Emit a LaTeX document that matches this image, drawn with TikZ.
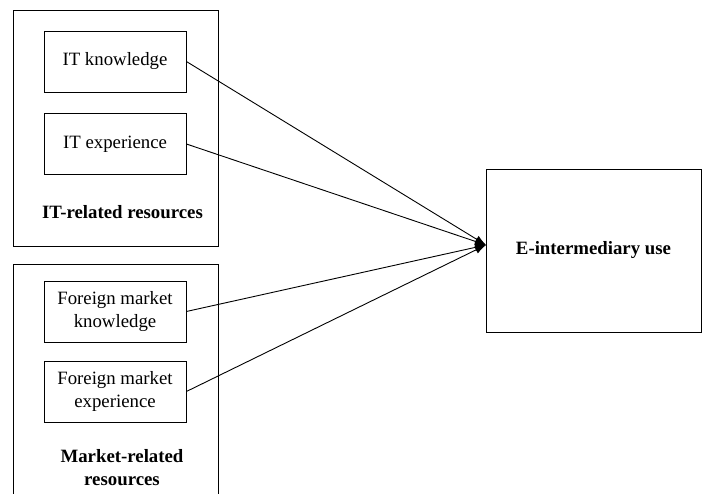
\documentclass[tikz,border=0pt]{standalone}
\usepackage{fontspec}
\setmainfont{Liberation Serif}
\usepackage{tikz}
\usetikzlibrary{arrows.meta}

\tikzset{
  resbox/.style={draw,line width=0.8pt,minimum width=142pt,minimum height=61pt,align=center,inner sep=0pt},
  groupbox/.style={draw,line width=0.8pt,minimum width=205pt,inner sep=0pt},
  link/.style={line width=0.9pt,-{Latex[length=11pt,width=8pt]}}
}

\begin{document}
\begin{tikzpicture}[x=1pt,y=-1pt,font=\fontsize{18.8}{23}\selectfont]
\useasboundingbox (0,0) rectangle (702,494);
\node (itgroup) at (115.5,128) [groupbox,minimum height=236pt] {};
\node (mkgroup) at (115.5,390) [groupbox,minimum height=252pt] {};
\node (itk) at (115,61.5) [resbox] {IT knowledge};
\node (ite) at (115,144) [resbox] {IT experience};
\node (fmk) at (115,311.5) [resbox] {Foreign market\\knowledge};
\node (fme) at (115,391.5) [resbox] {Foreign market\\experience};
\node (itlabel) at (122.5,212) [font=\fontsize{18.8}{23}\selectfont\bfseries] {IT-related resources};
\node (mklabel) at (122,468) [align=center,font=\fontsize{18.8}{23}\selectfont\bfseries] {Market-related\\resources};
\node (use) at (593.5,250.5) [draw,line width=0.8pt,minimum width=215pt,minimum height=163pt,font=\fontsize{18.8}{23}\selectfont\bfseries] {E-intermediary use};
\coordinate (tip) at (486,245);
\draw [link] (itk.east) -- (tip);
\draw [link] (ite.east) -- (tip);
\draw [link] (fmk.east) -- (tip);
\draw [link] (fme.east) -- (tip);
\end{tikzpicture}
\end{document}
